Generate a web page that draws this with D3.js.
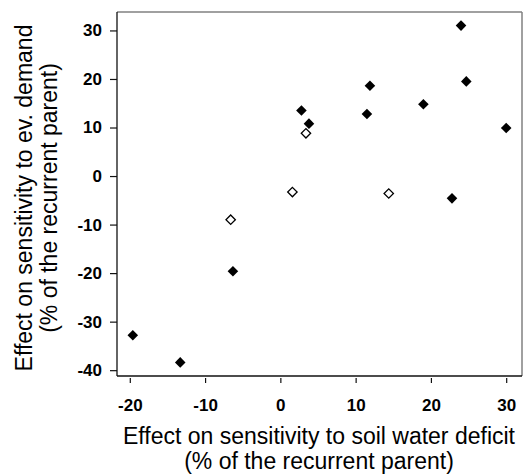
<!DOCTYPE html>
<html>
<head>
<meta charset="utf-8">
<script src="https://cdn.jsdelivr.net/npm/d3@7"></script>
<style>
  body { margin: 0; background: #fff; }
  text { font-family: "Liberation Sans", Arial, sans-serif; }
</style>
</head>
<body>
<div id="chart"></div>
<script>
// filled diamonds
const filledX = [24, 24.7, 11.9, 11.5, 19.0, 2.8, 3.8, 30.0, 22.8, -6.3, -19.6, -13.3];
const filledY = [31, 19.5, 18.6, 12.8, 14.8, 13.5, 10.8, 9.9, -4.6, -19.6, -32.8, -38.4];
// open diamonds
const openX = [3.4, 1.6, 14.4, -6.6];
const openY = [8.8, -3.3, -3.6, -9.0];

const xTicks = [-20, -10, 0, 10, 20, 30];
const yTicks = [-40, -30, -20, -10, 0, 10, 20, 30];

const width = 524, height = 476;
const plotL = 117, plotR = 522, plotT = 12, plotB = 376;

const svg = d3.select("#chart")
    .append("svg")
    .attr("width", width)
    .attr("height", height);

const x = d3.scaleLinear().domain([-21.7, 32.1]).range([plotL, plotR]);
const y = d3.scaleLinear().domain([-41.2, 33.8]).range([plotB, plotT]);

// frame: top/right grey, left/bottom dark
svg.append("line").attr("x1", plotL).attr("x2", plotR).attr("y1", plotT).attr("y2", plotT)
    .attr("stroke", "#808080").attr("stroke-width", 1.5);
svg.append("line").attr("x1", plotR).attr("x2", plotR).attr("y1", plotT).attr("y2", plotB)
    .attr("stroke", "#808080").attr("stroke-width", 1.5);
svg.append("line").attr("x1", plotL).attr("x2", plotL).attr("y1", plotT).attr("y2", plotB)
    .attr("stroke", "#111").attr("stroke-width", 1.3);
svg.append("line").attr("x1", plotL).attr("x2", plotR).attr("y1", plotB).attr("y2", plotB)
    .attr("stroke", "#111").attr("stroke-width", 1.3);

// axes (plain hyphen for negatives, like the original)
const fmt = d => String(d);

const yAxis = svg.append("g")
    .attr("transform", `translate(${plotL},0)`)
    .call(d3.axisLeft(y).tickValues(yTicks).tickFormat(fmt).tickSize(7).tickPadding(8));

const xAxis = svg.append("g")
    .attr("transform", `translate(0,${plotB + 2})`)
    .call(d3.axisBottom(x).tickValues(xTicks).tickFormat(fmt).tickSize(5).tickPadding(16));

[yAxis, xAxis].forEach(g => {
    g.select(".domain").remove();
    g.selectAll("line").attr("stroke", "#111").attr("stroke-width", 1.2);
    g.selectAll("text")
        .attr("fill", "#000")
        .style("font-size", "17px")
        .style("font-weight", "bold")
        .style("font-family", '"Liberation Sans", Arial, sans-serif');
});

// markers
const diamond = d3.symbol().type(d3.symbolSquare);

svg.append("g")
    .selectAll("path")
    .data(d3.range(filledX.length))
    .join("path")
    .attr("transform", i => `translate(${x(filledX[i])},${y(filledY[i])}) rotate(45)`)
    .attr("d", diamond.size(56)())
    .attr("fill", "#000");

svg.append("g")
    .selectAll("path")
    .data(d3.range(openX.length))
    .join("path")
    .attr("transform", i => `translate(${x(openX[i])},${y(openY[i])}) rotate(45)`)
    .attr("d", diamond.size(44)())
    .attr("fill", "#fff")
    .attr("stroke", "#000")
    .attr("stroke-width", 1.3);

// axis titles
svg.append("text")
    .attr("text-anchor", "middle")
    .attr("font-size", 23)
    .selectAll("tspan")
    .data(["Effect on sensitivity to soil water deficit", "(% of the recurrent parent)"])
    .join("tspan")
    .attr("x", 319)
    .attr("y", (d, i) => 444 + i * 24.5)
    .text(d => d);

svg.append("text")
    .attr("text-anchor", "middle")
    .attr("font-size", 23)
    .attr("transform", "translate(0,198) rotate(-90)")
    .selectAll("tspan")
    .data(["Effect on sensitivity to ev. demand", "(% of the recurrent parent)"])
    .join("tspan")
    .attr("x", 0)
    .attr("y", (d, i) => 32 + i * 25)
    .text(d => d);
</script>
</body>
</html>
